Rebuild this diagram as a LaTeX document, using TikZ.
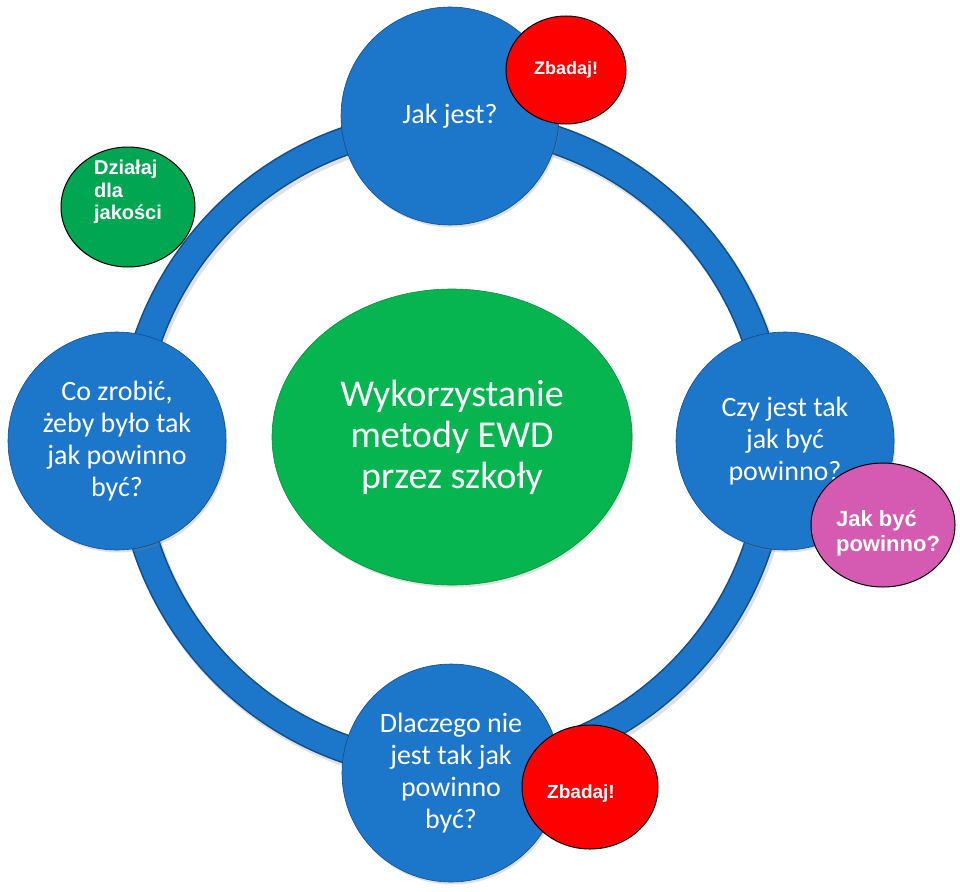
\documentclass[tikz,border=0pt]{standalone}
\usepackage{fontspec}
\setmainfont{Carlito}
\newfontfamily\arialfont{Liberation Sans}
\usetikzlibrary{shapes.geometric,shadows}

\definecolor{ewdblue}{RGB}{28,118,202}
\definecolor{ewdgreen}{RGB}{6,180,80}
\definecolor{actgreen}{RGB}{0,166,81}
\definecolor{tagred}{RGB}{255,0,0}
\definecolor{tagpink}{RGB}{213,90,178}

\begin{document}
\begin{tikzpicture}[x=1pt, y=-1pt,
  lift/.style={drop shadow={shadow xshift=1.5pt, shadow yshift=-2.5pt, opacity=0.25}},
  stage/.style={circle, fill=ewdblue, draw=ewdblue!65!black, line width=0.6pt, minimum size=218pt, inner sep=0pt, align=center, text=white, font=\fontsize{28}{32}\selectfont, lift},
  core/.style={ellipse, fill=ewdgreen, draw=ewdgreen!80!black, line width=0.6pt, minimum width=360pt, minimum height=296pt, inner sep=0pt, align=center, text=white, font=\fontsize{38}{41}\selectfont, lift},
  tag/.style={ellipse, draw=black, line width=1pt, inner sep=0pt, text=white, font=\arialfont\bfseries\fontsize{19}{23}\selectfont},
  tagtext/.style={text=white, align=left, inner sep=0pt}]
\useasboundingbox (0,0) rectangle (960,891);

% ring behind the stages
\draw[line width=30pt, black, opacity=0.12] (454,448) circle[radius=322];
\draw[line width=29pt, ewdblue!65!black] (452,445) circle[radius=322];
\draw[line width=26pt, ewdblue] (452,445) circle[radius=322];

% four stages of the cycle
\node[stage] (now) at (450,116) {Jak jest?};
\node[stage] (todo) at (117,441) {Co zrobić,\\żeby było tak\\jak powinno\\być?};
\node[stage] (gap) at (785,441) {Czy jest tak\\jak być\\powinno?};
\node[stage] (why) at (451,773) {Dlaczego nie\\jest tak jak\\powinno\\być?};

% centre
\node[core] (ewd) at (452,437) {Wykorzystanie\\metody EWD\\przez szkoły};

% small tags
\node[tag, fill=tagred, minimum width=120pt, minimum height=108pt, font=\arialfont\bfseries\fontsize{18}{22}\selectfont] (check1) at (566,70) {Zbadaj!};
\node[tag, fill=actgreen, minimum width=134pt, minimum height=120pt,
  label={[tagtext, yshift=15pt, font=\arialfont\bfseries\fontsize{20}{22.5}\selectfont]center:Działaj\\dla\\jakości}] (doit) at (128,207) {};
\node[tag, fill=tagpink, minimum width=144pt, minimum height=124pt,
  label={[tagtext, xshift=5pt, yshift=-8pt, font=\arialfont\bfseries\fontsize{22}{25}\selectfont]center:Jak być\\powinno?}] (norm) at (883,525) {};
\node[tag, fill=tagred, minimum width=136pt, minimum height=124pt,
  label={[tagtext, xshift=-9pt, yshift=-7pt, font=\arialfont\bfseries\fontsize{19}{23}\selectfont]center:Zbadaj!}] (check2) at (590,787) {};
\end{tikzpicture}
\end{document}
